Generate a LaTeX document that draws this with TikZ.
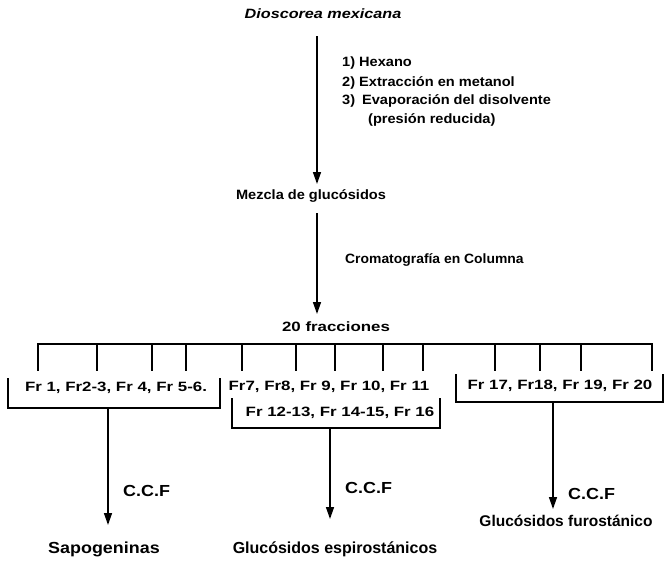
\documentclass[tikz,border=0pt]{standalone}
\usepackage{fontspec}
\setmainfont{Liberation Sans}
\usetikzlibrary{arrows.meta}
\newcommand\myfs[2]{\fontsize{#1}{#1}\selectfont\addfontfeatures{FakeStretch=#2}}
\begin{document}
\begin{tikzpicture}[x=1pt,y=-1pt,
  txt/.style={inner sep=0pt,font=\bfseries\myfs{13.5}{1.08}},
  frx/.style={inner sep=0pt,font=\bfseries\myfs{13.5}{1.25}},
  big/.style={inner sep=0pt,font=\bfseries\myfs{16}{1.12}},
  ln/.style={line width=1.5pt},
  arr/.style={line width=1.5pt,-{Triangle[length=12pt,width=8pt]}}]
\useasboundingbox (0,0) rectangle (665,573);
% top part
\node[inner sep=0pt,font=\bfseries\itshape\myfs{13.5}{1.2},anchor=base] (dio) at (323,18) {Dioscorea mexicana};
\node[txt,anchor=base west] (s1) at (342,66) {1) Hexano};
\node[txt,anchor=base west] (s2) at (342,86) {2) Extracción en metanol};
\node[txt,anchor=base west] (s3) at (342,104) {3)\hspace{7pt}Evaporación del disolvente};
\node[txt,anchor=base west] (s4) at (368,123) {(presión reducida)};
\node[txt,anchor=base] (mez) at (311,199) {Mezcla de glucósidos};
\coordinate (a1s) at (317,36);
\coordinate (a1e) at (317,184);
\draw[arr] (a1s) -- (a1e);
\node[inner sep=0pt,font=\bfseries\myfs{13.5}{1.03},anchor=base west] (cro) at (345,263) {Cromatografía en Columna};
\coordinate (a2s) at (317,213);
\coordinate (a2e) at (317,314);
\draw[arr] (a2s) -- (a2e);
\node[frx,anchor=base] (f20) at (336,331) {20 fracciones};
% bar and ticks
\coordinate (barL) at (38,344);
\coordinate (barR) at (652,344);
\draw[ln,line cap=rect] (barL) -- (barR);
\foreach \i/\x in {1/38,2/97,3/152,4/186,5/242,6/296,7/335,8/383,9/423,10/495,11/540,12/581,13/652}{
  \coordinate (t\i) at (\x,344);
  \coordinate (b\i) at (\x,371);
  \draw[ln] (t\i) -- (b\i);
}
% groups
\node[frx,anchor=base] (g1) at (116,391) {Fr 1, Fr2-3, Fr 4, Fr 5-6.};
\node[frx,anchor=base] (g2a) at (329,390) {Fr7, Fr8, Fr 9, Fr 10, Fr 11};
\node[frx,anchor=base] (g2b) at (340,416) {Fr 12-13, Fr 14-15, Fr 16};
\node[frx,anchor=base] (g3) at (560,389) {Fr 17, Fr18, Fr 19, Fr 20};
% brackets
\draw[ln] (8,378) -- (8,408) -- (220,408) -- (220,378);
\draw[ln] (232,398) -- (232,428) -- (440,428) -- (440,398);
\draw[ln] (456,374) -- (456,402) -- (663,402) -- (663,374);
\coordinate (d1) at (108,408);
\coordinate (d2) at (330,428);
\coordinate (d3) at (553,402);
% results
\node[big,anchor=base] (r1) at (104,553) {Sapogeninas};
\node[inner sep=0pt,font=\bfseries\myfs{16}{1.0},anchor=base] (r2) at (335,553) {Glucósidos espirostánicos};
\node[inner sep=0pt,font=\bfseries\myfs{15.5}{1.0},anchor=base] (r3) at (566,526) {Glucósidos furostánico};
\draw[arr] (d1) -- (108,525);
\draw[arr] (d2) -- (330,519);
\draw[arr] (d3) -- (553,509);
\node[big,anchor=base west] (c1) at (123,496) {C.C.F};
\node[big,anchor=base west] (c2) at (345,493) {C.C.F};
\node[big,anchor=base west] (c3) at (568,499) {C.C.F};
\end{tikzpicture}
\end{document}
